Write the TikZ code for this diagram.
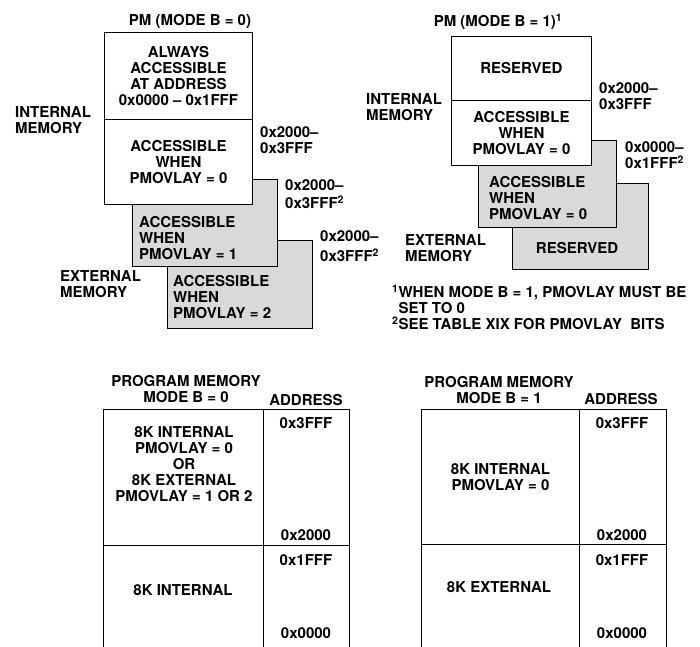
\documentclass[tikz,border=0pt]{standalone}
\usepackage{fontspec}
\setmainfont{TeX Gyre Heros}
\usepackage{tikz}
\usetikzlibrary{positioning}
\definecolor{shade}{gray}{0.85}
\tikzstyle{cell} = [draw, line width=0.9pt, fill=white, anchor=north west, inner sep=0pt, align=center]
\tikzstyle{over} = [cell, fill=shade]
\tikzstyle{lbl} = [inner sep=0pt, align=left, anchor=west]
\tikzstyle{head} = [inner sep=0pt, align=center]

\begin{document}
\begin{tikzpicture}[x=1pt, y=-1pt, font=\bfseries\fontsize{15}{16}\selectfont]
        \useasboundingbox (0,0) rectangle (700,646);
        \node[head] (pmzero) at (190,21) {PM (MODE B = 0)};
        \node[over, minimum width=145pt, minimum height=88pt] (extb) at (167,240) {};
        \node[over, minimum width=145pt, minimum height=87pt] (exta) at (132,179) {};
        \node[cell, minimum width=148pt, minimum height=87pt] (always) at (104,32) {ALWAYS\\ACCESSIBLE\\AT ADDRESS\\0x0000 – 0x1FFF};
        \node[cell, minimum width=148pt, minimum height=85pt] (intzero) at (104,119) {ACCESSIBLE\\WHEN\\PMOVLAY = 0};
        \node[lbl, anchor=north west] (extatxt) at (139,216.6) {ACCESSIBLE\\WHEN\\PMOVLAY = 1};
        \node[lbl, anchor=north west] (extbtxt) at (173,275.6) {ACCESSIBLE\\WHEN\\PMOVLAY = 2};
        \node[lbl] (intmemzero) at (15,120) {INTERNAL\\MEMORY};
        \node[lbl] (extmemzero) at (60,284) {EXTERNAL\\MEMORY};
        \node[lbl] (adrint) at (260,140) {0x2000–\\0x3FFF};
        \node[lbl] (adra) at (285,194) {0x2000–\\[2pt]0x3FFF\textsuperscript{2}};
        \node[lbl] (adrb) at (320,246) {0x2000–\\[4pt]0x3FFF\textsuperscript{2}};

        \node[head] (pmone) at (498,22) {PM (MODE B = 1)\textsuperscript{1}};
        \node[over, minimum width=136pt, minimum height=86pt] (resb) at (512,183) {};
        \node[over, minimum width=138pt, minimum height=87pt] (accb) at (478,140) {};
        \node[cell, minimum width=140pt, minimum height=64pt] (resa) at (451,36) {RESERVED};
        \node[cell, minimum width=140pt, minimum height=65pt] (intone) at (451,100) {ACCESSIBLE\\WHEN\\PMOVLAY = 0};
        \node[lbl, anchor=north west] (accbtxt) at (489,176.6) {ACCESSIBLE\\WHEN\\PMOVLAY = 0};
        \node[head] (resbtxt) at (577,248) {RESERVED};
        \node[lbl] (intmemone) at (366,107) {INTERNAL\\MEMORY};
        \node[lbl] (extmemone) at (405,248) {EXTERNAL\\MEMORY};
        \node[lbl] (adrone) at (599,96) {0x2000–\\0x3FFF};
        \node[lbl] (adrtwo) at (625,155) {0x0000–\\0x1FFF\textsuperscript{2}};
        \node[lbl] (notes) at (392,307.5) {\textsuperscript{1}WHEN MODE B = 1, PMOVLAY MUST BE\\\phantom{\textsuperscript{1}}SET TO 0\\\textsuperscript{2}SEE TABLE XIX FOR PMOVLAY\ \ BITS};

        \node[head] (pgmzero) at (186,389) {PROGRAM MEMORY\\MODE B = 0};
        \node[head] (addrzero) at (306,400) {ADDRESS};
        \node[cell, minimum width=160pt, minimum height=136pt] (hizero) at (103,409) {};
        \node[cell, minimum width=86pt, minimum height=136pt] (hizeroadr) at (263,409) {};
        \node[cell, minimum width=160pt, minimum height=115pt] (lozero) at (103,545) {};
        \node[cell, minimum width=86pt, minimum height=115pt] (lozeroadr) at (263,545) {};
        \node[head] (hizerotxt) at (184,464) {8K INTERNAL\\PMOVLAY = 0\\OR\\8K EXTERNAL\\PMOVLAY = 1 OR 2};
        \node[head] (lozerotxt) at (183,590) {8K INTERNAL};
        \node[head] (zatop) at (306,423) {0x3FFF};
        \node[head] (zabot) at (306,535) {0x2000};
        \node[head] (zbtop) at (306,560) {0x1FFF};
        \node[head] (zbbot) at (306,633) {0x0000};

        \node[head] (pgmone) at (499,390) {PROGRAM MEMORY\\MODE B = 1};
        \node[head] (addrone) at (621,399) {ADDRESS};
        \node[cell, minimum width=158pt, minimum height=135pt] (hione) at (421,409) {8K INTERNAL\\PMOVLAY = 0};
        \node[cell, minimum width=87pt, minimum height=135pt] (hioneadr) at (579,409) {};
        \node[cell, minimum width=158pt, minimum height=116pt] (loone) at (421,544) {};
        \node[cell, minimum width=87pt, minimum height=116pt] (looneadr) at (579,544) {};
        \node[head] (loonetxt) at (499,587) {8K EXTERNAL};
        \node[head] (oatop) at (622,423) {0x3FFF};
        \node[head] (oabot) at (622,535) {0x2000};
        \node[head] (obtop) at (622,560) {0x1FFF};
        \node[head] (obbot) at (622,633) {0x0000};
    \end{tikzpicture}
\end{document}
